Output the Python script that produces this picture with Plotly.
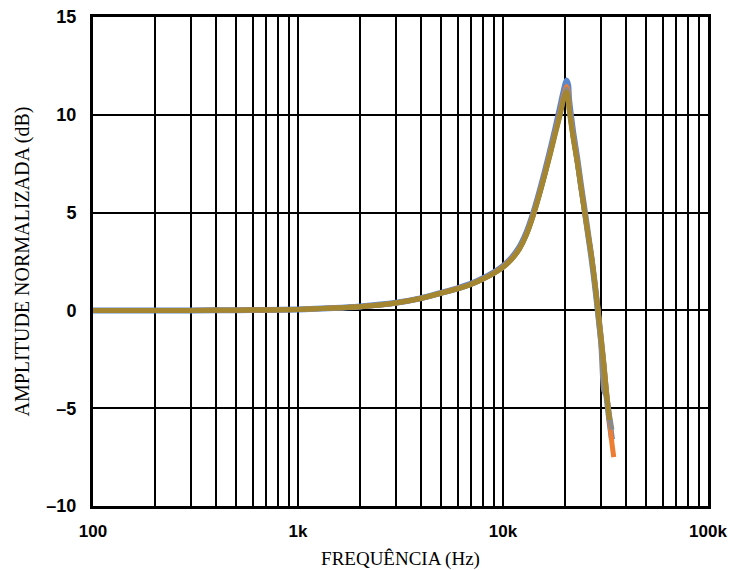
import plotly.graph_objects as go

# Frequencies (Hz)
freq = [100, 150, 200, 300, 500, 700, 1000, 1500, 2000, 3000, 4000, 5000, 6000, 7000,
        8000, 9000, 10000, 11000, 12000, 13000, 14000, 15000, 16000, 17000, 18000,
        19000, 19500, 20000, 20400, 20800, 21000, 21500, 22000, 23000, 24000, 25000,
        26000, 27000, 28000, 29000, 30000, 31000, 32000, 33000, 34000, 34700]

# Normalized amplitude (dB) for four measured units
amp_blue = [0.0, 0.0, 0.0, 0.0, 0.01, 0.02, 0.05, 0.12, 0.2, 0.39, 0.63, 0.9, 1.13, 1.37,
            1.65, 1.94, 2.27, 2.68, 3.22, 3.97, 4.93, 6.0, 7.1, 8.2, 9.3, 10.4, 10.95, 11.45,
            11.75, 11.5, 10.8, 9.9, 9.1, 7.8, 6.4, 5.15, 3.9, 2.7, 1.4, 0.0, -1.4, -2.9,
            -4.4, -5.6, -6.6, None]
amp_orange = [0.0, 0.0, 0.0, 0.0, 0.01, 0.02, 0.05, 0.12, 0.19, 0.38, 0.62, 0.89, 1.12, 1.35,
              1.62, 1.91, 2.23, 2.64, 3.16, 3.9, 4.86, 5.92, 7.0, 8.08, 9.15, 10.17, 10.72, 11.18,
              11.45, 11.2, 10.5, 9.7, 8.95, 7.7, 6.35, 5.1, 3.9, 2.8, 1.5, 0.1, -1.3, -2.7,
              -4.2, -5.5, -6.8, -7.5]
amp_gray = [0.0, 0.0, 0.0, 0.0, 0.01, 0.02, 0.05, 0.12, 0.19, 0.38, 0.62, 0.88, 1.11, 1.34,
            1.61, 1.89, 2.21, 2.61, 3.13, 3.87, 4.82, 5.87, 6.95, 8.03, 9.1, 10.08, 10.62, 11.08,
            11.3, 11.05, 10.4, 9.6, 8.85, 7.6, 6.3, 5.05, 3.85, 2.75, 1.4, -0.1, -1.7,
            -4.1, -4.4, -5.3, -6.1, None]
amp_olive = [0.0, 0.0, 0.0, 0.0, 0.01, 0.02, 0.05, 0.12, 0.19, 0.38, 0.62, 0.88, 1.1, 1.33,
             1.6, 1.88, 2.2, 2.6, 3.12, 3.85, 4.8, 5.85, 6.92, 7.98, 9.02, 10.0, 10.55, 10.98,
             11.15, 10.95, 10.3, 9.5, 8.8, 7.6, 6.3, 5.05, 3.9, 2.8, 1.5, 0.1, -1.3, -2.7,
             -4.3, -5.6, None, None]

series = [
    ("blue", amp_blue, "#5A86CC", 6),
    ("orange", amp_orange, "#ED7D31", 5),
    ("gray", amp_gray, "#8A8A8A", 5),
    ("olive", amp_olive, "#A3862F", 5),
]

# Axis ticks
x_grid = [m * d for d in [100, 1000, 10000] for m in range(1, 10)] + [100000]
x_labels = {100: "100", 1000: "1k", 10000: "10k", 100000: "100k"}
y_ticks = [-10, -5, 0, 5, 10, 15]
y_labels = ["–10", "–5", "0", "5", "10", "15"]

fig = go.Figure()
for name, vals, color, w in series:
    fig.add_trace(go.Scatter(x=freq, y=vals, mode="lines", name=name,
                             line=dict(color=color, width=w, shape="spline", smoothing=0.6),
                             connectgaps=False, showlegend=False))

fig.update_layout(
    width=730, height=570,
    margin=dict(l=93, r=22, t=17, b=64, autoexpand=False),
    paper_bgcolor="white", plot_bgcolor="white",
    font=dict(family="Liberation Sans, Arial, sans-serif", color="black"),
)
fig.update_xaxes(
    type="log", range=[2, 5], automargin=False,
    tickvals=x_grid,
    ticktext=["<b>" + x_labels[v] + "</b>" if v in x_labels else "" for v in x_grid],
    tickfont=dict(size=17, family="Liberation Sans, Arial, sans-serif"),
    showgrid=True, gridcolor="black", gridwidth=1.5,
    showline=True, linecolor="black", linewidth=3, mirror=True,
    ticks="", ticklabelstandoff=8, ticklabeloverflow="allow",
    title=dict(text="FREQUÊNCIA (Hz)", standoff=12,
               font=dict(family="Liberation Serif, Times New Roman, serif", size=19)),
    zeroline=False,
)
fig.update_yaxes(
    range=[-10, 15], automargin=False,
    tickvals=y_ticks,
    ticktext=["<b>" + t + "</b>" for t in y_labels],
    tickfont=dict(size=18, family="Liberation Sans, Arial, sans-serif"),
    showgrid=True, gridcolor="black", gridwidth=1.5,
    showline=True, linecolor="black", linewidth=3, mirror=True,
    ticks="", ticklabelstandoff=10, ticklabeloverflow="allow",
    title=dict(text="AMPLITUDE NORMALIZADA (dB)", standoff=12,
               font=dict(family="Liberation Serif, Times New Roman, serif", size=20)),
    zeroline=False,
)

# Remove the default 8px body margin so the figure fills the window exactly.
fig.write_html("out.html",
               config={"displayModeBar": False},
               post_script="document.body.style.margin='0';document.body.style.overflow='hidden';")
